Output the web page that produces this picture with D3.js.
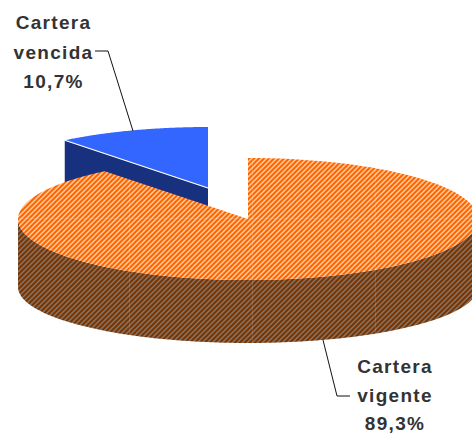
<!DOCTYPE html>
<html>
<head>
<meta charset="utf-8">
<script src="https://cdn.jsdelivr.net/npm/d3@7"></script>
<style>
    html, body { margin: 0; padding: 0; background: #fff; }
    text { font-family: "Liberation Sans", Arial, sans-serif; font-weight: bold; font-size: 19px; fill: #333; letter-spacing: 1.3px; }
</style>
</head>
<body>
<div id="chart"></div>
<script>
// values
const categories = ["Cartera vigente", "Cartera vencida"];
const shares = [89.3, 10.7];
const labelLines = [["Cartera", "vigente", "89,3%"], ["Cartera", "vencida", "10,7%"]];

const width = 472, height = 434;

let svg = d3.select("#chart").append("svg")
    .attr("width", width)
    .attr("height", height)
    .style("display", "block");

// hatch fills
let defs = svg.append("defs");
function hatch(id, base, stripe) {
    let p = defs.append("pattern")
        .attr("id", id)
        .attr("patternUnits", "userSpaceOnUse")
        .attr("width", 5)
        .attr("height", 5);
    p.append("rect").attr("width", 5).attr("height", 5).attr("fill", base);
    p.append("path")
        .attr("d", "M-1,1L1,-1M0,5L5,0M4,6L6,4")
        .attr("stroke", stripe)
        .attr("stroke-width", 1.4);
}
hatch("hatchTop", "#ff6600", "#ffd0a8");
hatch("hatchSide", "#7a3400", "#85786e");

// tilted pie: ellipse radii and wall height
const rx = 230, ry = 61, ryBottom = 56, depth = 68;
const center = {x: 248, y: 219};
const exploded = {x: 208, y: 188};

let pie = d3.pie().sort(null).value(d => d);
let arcs = pie(shares);

function onEllipse(c, a, dy = 0, r = ry) {
    return [c.x + rx * Math.sin(a), c.y - r * Math.cos(a) + dy];
}
function rim(c, a0, a1, dy = 0, r = ry) {
    return d3.range(0, 121).map(i => onEllipse(c, a0 + (a1 - a0) * i / 120, dy, r));
}
let line = d3.line();

let blue = arcs[1];
let orange = arcs[0];

// inner wall of blue slice, the orange slice covers the lower part
let bl = onEllipse(exploded, blue.startAngle);
svg.append("path")
    .attr("d", line([bl, [exploded.x, exploded.y], [exploded.x, exploded.y + depth], [bl[0], bl[1] + depth]]) + "Z")
    .attr("fill", "#17317f");

svg.append("path")
    .attr("d", line([[exploded.x, exploded.y]].concat(rim(exploded, blue.startAngle, blue.endAngle))) + "Z")
    .attr("fill", "#3366ff");

svg.append("path")
    .attr("d", line([bl, [exploded.x, exploded.y]]))
    .attr("stroke", "#fff")
    .attr("stroke-width", 1.2)
    .attr("fill", "none");

// orange wall, only the front half is visible
let wallTop = rim(center, Math.PI / 2, 3 * Math.PI / 2);
let wallBottom = rim(center, 3 * Math.PI / 2, Math.PI / 2, depth, ryBottom);
let wallPath = line(wallTop.concat(wallBottom)) + "Z";
let topPath = line([[center.x, center.y]].concat(rim(center, orange.startAngle, orange.endAngle))) + "Z";

svg.append("path")
    .attr("d", wallPath)
    .attr("fill", "url(#hatchSide)");

svg.append("path")
    .attr("d", topPath)
    .attr("fill", "url(#hatchTop)");

// faint seams of the fill
let clip = defs.append("clipPath").attr("id", "pieClip");
clip.append("path").attr("d", wallPath);
clip.append("path").attr("d", topPath);
let seams = svg.append("g")
    .attr("clip-path", "url(#pieClip)")
    .attr("stroke", "#fff")
    .attr("stroke-opacity", 0.12);
[129, 252, 375].forEach(x => {
    seams.append("line").attr("x1", x + 0.5).attr("x2", x + 0.5).attr("y1", 100).attr("y2", 400);
});
seams.append("line").attr("x1", 0).attr("x2", width).attr("y1", 218.5).attr("y2", 218.5);

// leader lines
let leaders = [
    [[323, 340], [337, 396], [350, 396]],
    [[95, 51], [108, 51], [133, 131]]
];
leaders.forEach(l => {
    svg.append("path")
        .attr("d", line(l))
        .attr("fill", "none")
        .attr("stroke", "#111")
        .attr("stroke-width", 1);
});

// labels
let labelPos = [{x: 395, y: 373, step: 28.5}, {x: 53.5, y: 29, step: 29.5}];
labelLines.forEach((lines, i) => {
    svg.append("text")
        .attr("text-anchor", "middle")
        .attr("aria-label", categories[i])
        .selectAll("tspan")
        .data(lines)
        .enter()
        .append("tspan")
        .attr("x", labelPos[i].x)
        .attr("y", (d, j) => labelPos[i].y + j * labelPos[i].step)
        .text(d => d);
});
</script>
</body>
</html>
